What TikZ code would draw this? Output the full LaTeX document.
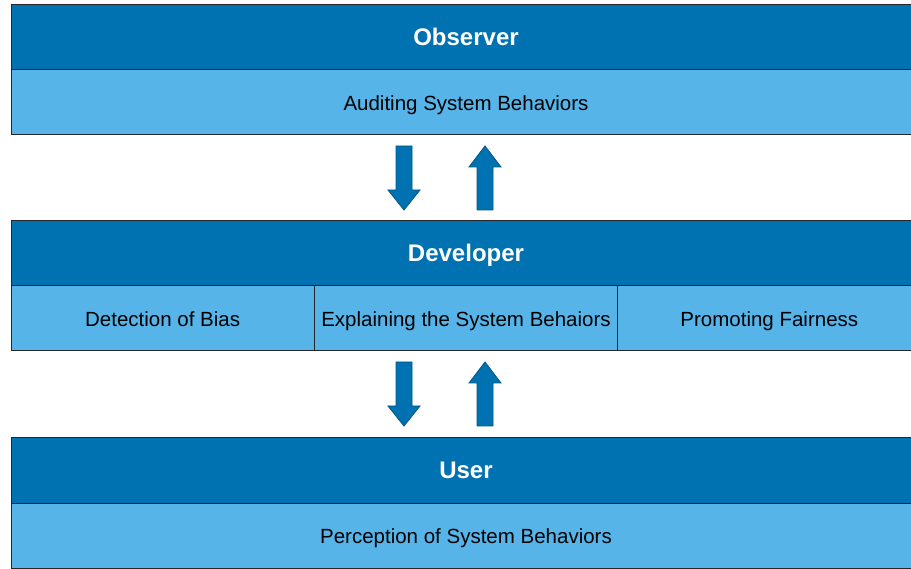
\documentclass[tikz,border=0pt]{standalone}
\usepackage{fontspec}
\setmainfont{Liberation Sans}
\usetikzlibrary{positioning}
\definecolor{headblue}{HTML}{0072B2}
\definecolor{bodyblue}{HTML}{56B4E9}

\begin{document}
\begin{tikzpicture}[x=1pt, y=-1pt,
    band/.style={draw=black!85, line width=1pt, inner sep=0, outer sep=0,
      minimum width=910pt, minimum height=65pt, text height=16pt, text depth=0pt},
    head/.style={band, fill=headblue, text=white,
      font=\fontsize{24}{28}\selectfont\bfseries},
    body/.style={band, fill=bodyblue, font=\fontsize{20.5}{24}\selectfont},
    cell/.style={body, minimum width=303.33pt},
    arrowfill/.style={fill=headblue, draw=headblue!75!black, line width=0.8pt},
    downarrow/.pic={\filldraw[arrowfill] (-8,0) -- (8,0) -- (8,44) -- (16,44)
      -- (0,64) -- (-16,44) -- (-8,44) -- cycle;},
    uparrow/.pic={\filldraw[arrowfill] (0,0) -- (16,21) -- (8,21) -- (8,64)
      -- (-8,64) -- (-8,21) -- (-16,21) -- cycle;}
  ]
  \useasboundingbox (0,0) rectangle (911,569);

  % observer layer
  \node[head, anchor=north west] (obshead) at (11,5) {Observer};
  \node[body, below=0pt of obshead] (obsbody) {Auditing System Behaviors};

  % developer layer
  \node[head, below=86pt of obsbody] (devhead) {Developer};
  \node[cell, anchor=north west] (devbias) at (devhead.south west) {Detection of Bias};
  \node[cell, right=0pt of devbias] (devexpl) {Explaining the System Behaiors};
  \node[cell, right=0pt of devexpl] (devfair) {Promoting Fairness};

  % user layer
  \node[head, below=87pt of devexpl.south -| devhead.south] (userhead) {User};
  \node[body, below=0pt of userhead] (userbody) {Perception of System Behaviors};

  % block arrows between the layers
  \pic at (404,146) {downarrow};
  \pic at (485,146) {uparrow};
  \pic at (404,362) {downarrow};
  \pic at (485,362) {uparrow};
\end{tikzpicture}
\end{document}
